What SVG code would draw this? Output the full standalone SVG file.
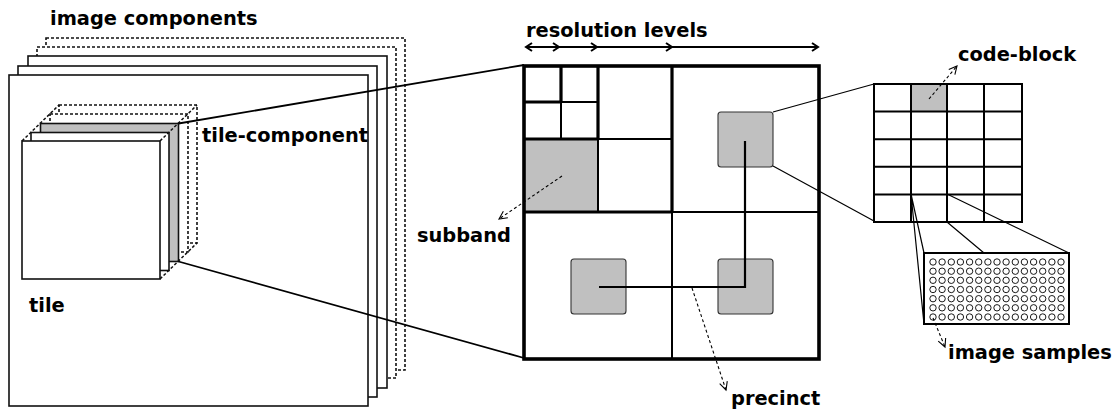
<svg xmlns="http://www.w3.org/2000/svg" width="1117" height="411" viewBox="0 0 1117 411">
<style>
text{font-family:"DejaVu Sans","Liberation Sans",sans-serif;font-weight:bold;font-size:19.4px;fill:#000}
.pl{fill:#fff;stroke:#111;stroke-width:1.6}
.pd{fill:#fff;stroke:#111;stroke-width:1.6;stroke-dasharray:3,2}
.gr{fill:#c0c0c0;stroke:#111;stroke-width:1.6}
.dg{stroke:#111;stroke-width:1.5;stroke-dasharray:3,2;fill:none}
.thk{stroke:#000;stroke-width:3.2;fill:none}
.thn{stroke:#000;stroke-width:2;fill:none}
.con{stroke:#000;stroke-width:1.8;fill:none}
.fine{stroke:#000;stroke-width:1.2;fill:none}
.dash{stroke:#000;stroke-width:1.1;stroke-dasharray:3,2.5;fill:none;marker-end:url(#open)}
.prec{fill:#c0c0c0;stroke:#333;stroke-width:1.1}
.smp{fill:#fff;stroke:#000;stroke-width:0.9}
</style>
<defs>
<marker id="open" markerUnits="userSpaceOnUse" markerWidth="12" markerHeight="12" refX="8" refY="4" orient="auto" overflow="visible">
<path d="M0,0 L8,4 L0,8" fill="none" stroke="#000" stroke-width="1.1"/>
</marker>
</defs>

<g id="image-components">
<rect class="pd" x="46" y="38" width="359" height="332"/>
<rect class="pd" x="37" y="47" width="359" height="331"/>
<rect class="pl" x="28" y="56" width="359" height="332"/>
<rect class="pl" x="18" y="66" width="359" height="331"/>
<rect class="pl" x="9" y="75" width="359" height="331"/>
<text x="50" y="25">image components</text>
</g>

<g id="tile">
<rect class="pd" x="59" y="105" width="138" height="138"/>
<rect class="pd" x="50" y="114" width="138" height="138"/>
<rect class="gr" x="40.5" y="123.5" width="138" height="138"/>
<rect class="pl" x="31" y="132.5" width="138" height="138"/>
<rect class="pl" x="22" y="141" width="138" height="138"/>
<path class="dg" d="M22,141 L59,105 M160,141 L197,105 M160,279 L197,243"/>
<text x="202" y="142">tile-component</text>
<text x="29" y="312">tile</text>
</g>

<g id="connectors">
<path class="con" d="M178.5,123.5 L524,65 M178.5,261.5 L524,358"/>
<path class="fine" d="M773,112 L874,84 M773,166 L874,221"/>
<path class="fine" d="M911,194 L924,324 M911,194 L924,253 M947,194 L1069,253 M947,222 L984,253"/>
</g>

<g id="resolution-levels">
<path d="M526,47 H818" stroke="#000" stroke-width="2" fill="none"/>
<path d="M532,43 L526,47 L532,51 M553,43 L559,47 L553,51 M591,43 L597,47 L591,51 M666,43 L672,47 L666,51 M812,43 L818,47 L812,51" stroke="#000" stroke-width="2" fill="none"/>
<text x="526" y="37">resolution levels</text>
</g>

<g id="subbands">
<rect x="524" y="139" width="74" height="73" fill="#c0c0c0"/>
<path class="thn" d="M672,212 V359 M672,212 H819 M598,139 V212 M598,139 H672 M561,102 V139 M561,102 H598"/>
<path class="thk" d="M672,66 V212 M524,212 H672 M598,66 V139 M524,139 H598 M561,66 V102 M524,102 H561"/>
<rect x="524" y="66" width="295" height="293" fill="none" stroke="#000" stroke-width="3.6"/>
</g>

<g id="precincts">
<rect class="prec" x="718" y="112" width="55" height="55" rx="3"/>
<rect class="prec" x="571" y="259" width="55" height="55" rx="3"/>
<rect class="prec" x="718" y="259" width="55" height="55" rx="3"/>
<path d="M599,287 H745 V141" stroke="#000" stroke-width="2.2" fill="none"/>
</g>

<g id="subband-label">
<path class="dash" d="M562,176 L499,219"/>
<text x="417" y="242">subband</text>
</g>

<g id="precinct-label">
<path class="dash" d="M692,288 L726,390"/>
<text x="731" y="405">precinct</text>
</g>

<g id="code-blocks">
<rect x="911" y="84" width="36" height="27.6" fill="#c0c0c0"/>
<path class="thn" d="M874,84 H1022 V222 H874 Z M911,84 V222 M947,84 V222 M984,84 V222 M874,111.6 H1022 M874,139.2 H1022 M874,166.8 H1022 M874,194.4 H1022"/>
<path class="dash" d="M929,99 L957,66"/>
<text x="958" y="61">code-block</text>
</g>

<g id="image-samples">
<rect x="924" y="253" width="145" height="71" fill="#fff" stroke="#000" stroke-width="2"/>
<g class="smp">
<circle cx="933" cy="262" r="3.2"/><circle cx="942.1" cy="262" r="3.2"/><circle cx="951.3" cy="262" r="3.2"/><circle cx="960.4" cy="262" r="3.2"/><circle cx="969.6" cy="262" r="3.2"/><circle cx="978.7" cy="262" r="3.2"/><circle cx="987.9" cy="262" r="3.2"/><circle cx="997" cy="262" r="3.2"/><circle cx="1006.1" cy="262" r="3.2"/><circle cx="1015.3" cy="262" r="3.2"/><circle cx="1024.4" cy="262" r="3.2"/><circle cx="1033.6" cy="262" r="3.2"/><circle cx="1042.7" cy="262" r="3.2"/><circle cx="1051.9" cy="262" r="3.2"/><circle cx="1061" cy="262" r="3.2"/>
<circle cx="933" cy="271.2" r="3.2"/><circle cx="942.1" cy="271.2" r="3.2"/><circle cx="951.3" cy="271.2" r="3.2"/><circle cx="960.4" cy="271.2" r="3.2"/><circle cx="969.6" cy="271.2" r="3.2"/><circle cx="978.7" cy="271.2" r="3.2"/><circle cx="987.9" cy="271.2" r="3.2"/><circle cx="997" cy="271.2" r="3.2"/><circle cx="1006.1" cy="271.2" r="3.2"/><circle cx="1015.3" cy="271.2" r="3.2"/><circle cx="1024.4" cy="271.2" r="3.2"/><circle cx="1033.6" cy="271.2" r="3.2"/><circle cx="1042.7" cy="271.2" r="3.2"/><circle cx="1051.9" cy="271.2" r="3.2"/><circle cx="1061" cy="271.2" r="3.2"/>
<circle cx="933" cy="280.3" r="3.2"/><circle cx="942.1" cy="280.3" r="3.2"/><circle cx="951.3" cy="280.3" r="3.2"/><circle cx="960.4" cy="280.3" r="3.2"/><circle cx="969.6" cy="280.3" r="3.2"/><circle cx="978.7" cy="280.3" r="3.2"/><circle cx="987.9" cy="280.3" r="3.2"/><circle cx="997" cy="280.3" r="3.2"/><circle cx="1006.1" cy="280.3" r="3.2"/><circle cx="1015.3" cy="280.3" r="3.2"/><circle cx="1024.4" cy="280.3" r="3.2"/><circle cx="1033.6" cy="280.3" r="3.2"/><circle cx="1042.7" cy="280.3" r="3.2"/><circle cx="1051.9" cy="280.3" r="3.2"/><circle cx="1061" cy="280.3" r="3.2"/>
<circle cx="933" cy="289.5" r="3.2"/><circle cx="942.1" cy="289.5" r="3.2"/><circle cx="951.3" cy="289.5" r="3.2"/><circle cx="960.4" cy="289.5" r="3.2"/><circle cx="969.6" cy="289.5" r="3.2"/><circle cx="978.7" cy="289.5" r="3.2"/><circle cx="987.9" cy="289.5" r="3.2"/><circle cx="997" cy="289.5" r="3.2"/><circle cx="1006.1" cy="289.5" r="3.2"/><circle cx="1015.3" cy="289.5" r="3.2"/><circle cx="1024.4" cy="289.5" r="3.2"/><circle cx="1033.6" cy="289.5" r="3.2"/><circle cx="1042.7" cy="289.5" r="3.2"/><circle cx="1051.9" cy="289.5" r="3.2"/><circle cx="1061" cy="289.5" r="3.2"/>
<circle cx="933" cy="298.7" r="3.2"/><circle cx="942.1" cy="298.7" r="3.2"/><circle cx="951.3" cy="298.7" r="3.2"/><circle cx="960.4" cy="298.7" r="3.2"/><circle cx="969.6" cy="298.7" r="3.2"/><circle cx="978.7" cy="298.7" r="3.2"/><circle cx="987.9" cy="298.7" r="3.2"/><circle cx="997" cy="298.7" r="3.2"/><circle cx="1006.1" cy="298.7" r="3.2"/><circle cx="1015.3" cy="298.7" r="3.2"/><circle cx="1024.4" cy="298.7" r="3.2"/><circle cx="1033.6" cy="298.7" r="3.2"/><circle cx="1042.7" cy="298.7" r="3.2"/><circle cx="1051.9" cy="298.7" r="3.2"/><circle cx="1061" cy="298.7" r="3.2"/>
<circle cx="933" cy="307.8" r="3.2"/><circle cx="942.1" cy="307.8" r="3.2"/><circle cx="951.3" cy="307.8" r="3.2"/><circle cx="960.4" cy="307.8" r="3.2"/><circle cx="969.6" cy="307.8" r="3.2"/><circle cx="978.7" cy="307.8" r="3.2"/><circle cx="987.9" cy="307.8" r="3.2"/><circle cx="997" cy="307.8" r="3.2"/><circle cx="1006.1" cy="307.8" r="3.2"/><circle cx="1015.3" cy="307.8" r="3.2"/><circle cx="1024.4" cy="307.8" r="3.2"/><circle cx="1033.6" cy="307.8" r="3.2"/><circle cx="1042.7" cy="307.8" r="3.2"/><circle cx="1051.9" cy="307.8" r="3.2"/><circle cx="1061" cy="307.8" r="3.2"/>
<circle cx="933" cy="317" r="3.2"/><circle cx="942.1" cy="317" r="3.2"/><circle cx="951.3" cy="317" r="3.2"/><circle cx="960.4" cy="317" r="3.2"/><circle cx="969.6" cy="317" r="3.2"/><circle cx="978.7" cy="317" r="3.2"/><circle cx="987.9" cy="317" r="3.2"/><circle cx="997" cy="317" r="3.2"/><circle cx="1006.1" cy="317" r="3.2"/><circle cx="1015.3" cy="317" r="3.2"/><circle cx="1024.4" cy="317" r="3.2"/><circle cx="1033.6" cy="317" r="3.2"/><circle cx="1042.7" cy="317" r="3.2"/><circle cx="1051.9" cy="317" r="3.2"/><circle cx="1061" cy="317" r="3.2"/>
</g>
<path class="dash" d="M933,318 L945,347"/>
<text x="948" y="359">image samples</text>
</g>
</svg>
